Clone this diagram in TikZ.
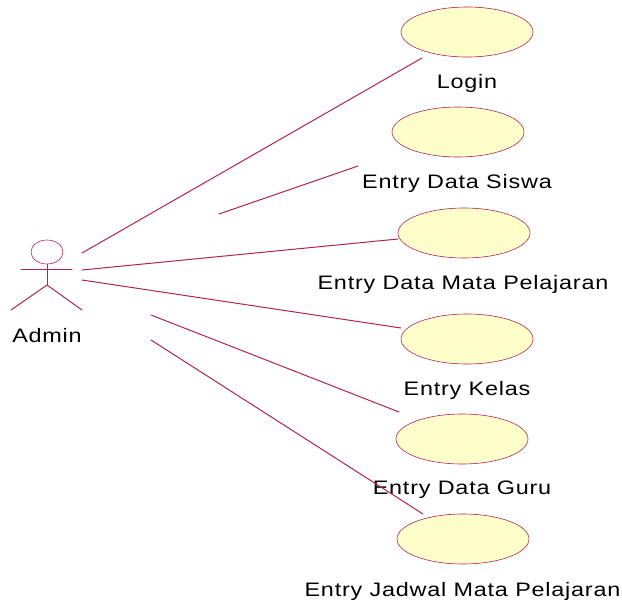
\documentclass[tikz,border=0pt]{standalone}
\usepackage{fontspec}
\setmainfont[FakeStretch=1.2,LetterSpace=4]{Liberation Sans}
\usetikzlibrary{shapes.geometric}
\definecolor{umlline}{RGB}{175,35,85}
\definecolor{umlfill}{RGB}{255,255,204}
\begin{document}
\begin{tikzpicture}[x=1pt, y=-1pt, line join=round, line cap=round,
	usecase/.style={ellipse, draw=umlline, fill=umlfill, line width=.6pt, minimum width=132pt, minimum height=50pt, inner sep=0pt},
	caption/.style={font=\fontsize{19.5}{23}\selectfont, inner sep=0pt, text=black},
	assoc/.style={draw=umlline, line width=1pt}
	]
	\useasboundingbox (0,0) rectangle (622,603);
	% use cases
	\foreach \name/\x/\y in {login/467/32, siswa/458/132, mapel/464/233, kelas/467/339, guru/462/439, jadwal/463/539}
	\node[usecase] (\name) at (\x,\y) {};
	\node[caption] (loginlabel) at (467,83) {Login};
	\node[caption] (siswalabel) at (457,183) {Entry Data Siswa};
	\node[caption] (mapellabel) at (463,284) {Entry Data Mata Pelajaran};
	\node[caption] (kelaslabel) at (467,390) {Entry Kelas};
	\node[caption] (gurulabel) at (462,490) {Entry Data Guru};
	\node[caption] (jadwallabel) at (462.5,591) {Entry Jadwal Mata Pelajaran};
	% actor
	\node[ellipse, draw=umlline, line width=.6pt, minimum width=32pt, minimum height=24pt, inner sep=0pt] (head) at (47,252) {};
	\coordinate (hip) at (47,285);
	\coordinate (armL) at (21,269);
	\coordinate (armR) at (72,269);
	\coordinate (footL) at (11,310);
	\coordinate (footR) at (82,310);
	\draw[assoc] (head.south)--(hip);
	\draw[assoc] (armL)--(armR);
	\draw[assoc] (footL)--(hip)--(footR);
	\node[caption] (admin) at (47,335.5) {Admin};
	% associations
	\foreach \a/\xa/\ya/\xb/\yb in {login/82/253/422/58, siswa/219/214/358/166, mapel/82/270/398/239, kelas/82/280/401/328, guru/151/315/399/412, jadwal/151/340/423/514}
	{
		\coordinate (\a from) at (\xa,\ya);
		\coordinate (\a to) at (\xb,\yb);
		\draw[assoc] (\a from)--(\a to);
	}
\end{tikzpicture}
\end{document}
